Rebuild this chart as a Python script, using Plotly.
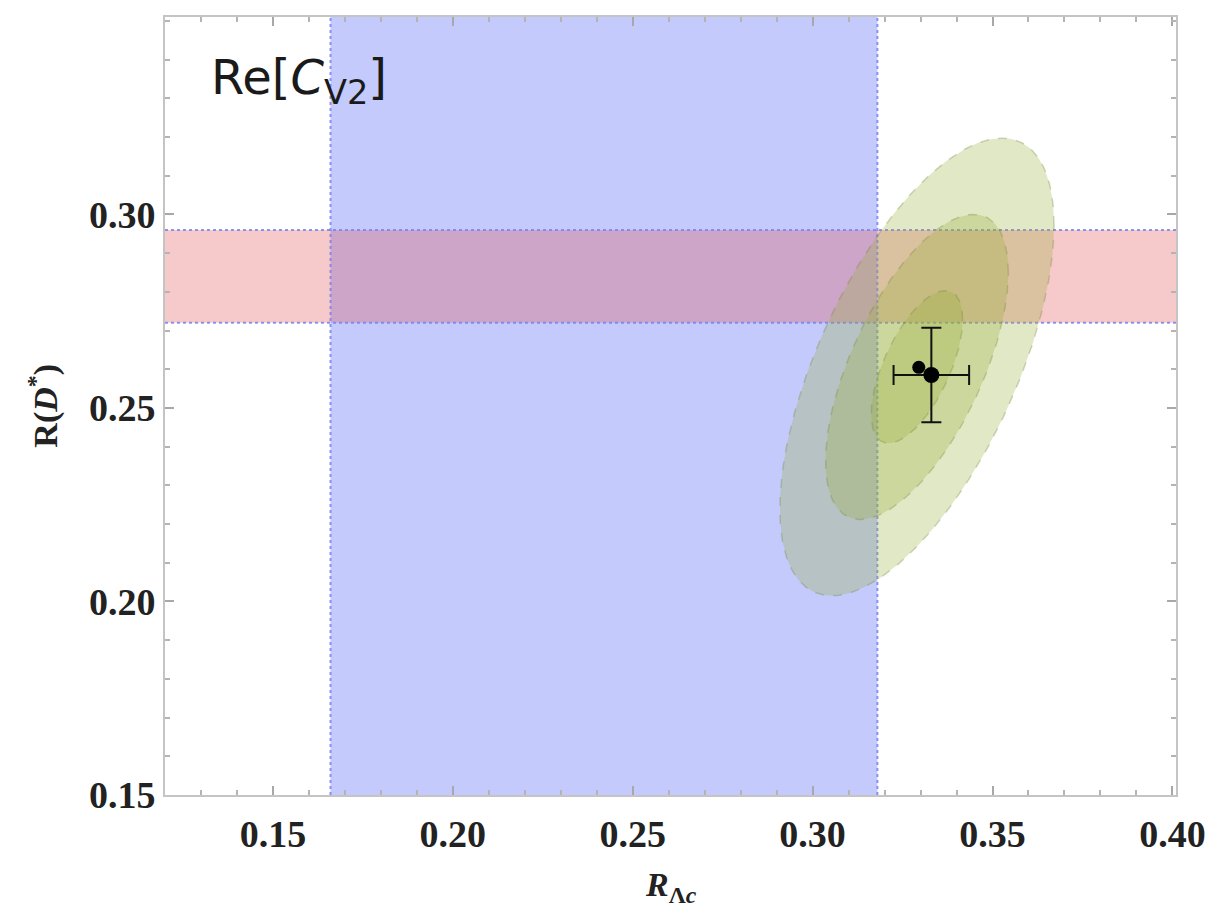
import numpy as np
import plotly.graph_objects as go

# ---------------- data ----------------
x_range = [0.12, 0.401]
y_range = [0.15, 0.351]
x_tick_vals = [0.15, 0.20, 0.25, 0.30, 0.35, 0.40]
x_tick_text = ["0.15", "0.20", "0.25", "0.30", "0.35", "0.40"]
y_tick_vals = [0.15, 0.20, 0.25, 0.30]
y_tick_text = ["0.15", "0.20", "0.25", "0.30"]

band_rlambdac = [0.166, 0.318]      # blue vertical band (R_Lambda_c measurement)
band_rdstar = [0.272, 0.296]        # red horizontal band (R(D*) measurement)

ellipse_center = [0.329, 0.2606]
ellipse_sigma = [0.0127, 0.0197]
ellipse_rho = 0.62
ellipse_levels = [3, 2, 1]

point_x = [0.3330]
point_y = [0.2585]
point_err_x = [0.0105]
point_err_y = [0.0122]
dot2_x = [0.3295]
dot2_y = [0.2605]

# ---------------- figure ----------------
fig = go.Figure()

blue_fill = "rgba(60,80,245,0.30)"
red_fill = "rgba(225,80,80,0.30)"
border = "rgba(120,130,240,0.85)"

shapes = [
    dict(type="rect", xref="x", yref="y", x0=band_rlambdac[0], x1=band_rlambdac[1],
         y0=y_range[0], y1=y_range[1], fillcolor=blue_fill, line=dict(width=0), layer="below"),
    dict(type="rect", xref="x", yref="y", x0=x_range[0], x1=x_range[1],
         y0=band_rdstar[0], y1=band_rdstar[1], fillcolor=red_fill, line=dict(width=0), layer="below"),
]
for xv in band_rlambdac:
    shapes.append(dict(type="line", xref="x", yref="y", x0=xv, x1=xv, y0=y_range[0], y1=y_range[1],
                       line=dict(color=border, width=2, dash="dot"), layer="below"))
for yv in band_rdstar:
    shapes.append(dict(type="line", xref="x", yref="y", x0=x_range[0], x1=x_range[1], y0=yv, y1=yv,
                       line=dict(color=border, width=2, dash="dot"), layer="below"))

t = np.linspace(0, 2 * np.pi, 241)
cx, cy = ellipse_center
sx, sy = ellipse_sigma
r = ellipse_rho
for n in ellipse_levels:
    ex = cx + n * sx * np.cos(t)
    ey = cy + n * sy * (r * np.cos(t) + np.sqrt(1 - r * r) * np.sin(t))
    fig.add_trace(go.Scatter(
        x=ex, y=ey, mode="lines", fill="toself",
        fillcolor="rgba(150,175,60,0.29)",
        line=dict(color="rgba(110,130,50,0.30)", width=1.5, dash="dash"),
        hoverinfo="skip", showlegend=False))

fig.add_trace(go.Scatter(
    x=dot2_x, y=dot2_y, mode="markers",
    marker=dict(color="black", size=13), showlegend=False))
fig.add_trace(go.Scatter(
    x=point_x, y=point_y, mode="markers",
    marker=dict(color="black", size=16),
    error_x=dict(type="data", array=point_err_x, color="#111", thickness=2, width=10),
    error_y=dict(type="data", array=point_err_y, color="#111", thickness=2, width=10),
    showlegend=False))

tickfont = dict(family="Liberation Serif", size=38, color="#222", weight="bold")
axis_common = dict(
    showline=True, mirror="allticks", linecolor="#c4c4c4", linewidth=2,
    showgrid=False, zeroline=False,
    ticks="inside", ticklen=9, tickwidth=1.5, tickcolor="#a8a8a8",
    tickfont=tickfont, ticklabeloverflow="allow",
)

# The page body has an 8px margin, so the figure is sized to fit the window.
fig.update_layout(
    width=1205, height=906,
    margin=dict(l=157, r=37, t=7, b=119),
    paper_bgcolor="white", plot_bgcolor="white",
    shapes=shapes,
    xaxis=dict(range=x_range, tickmode="array", tickvals=x_tick_vals, ticktext=x_tick_text,
               ticklabelstandoff=4,
               minor=dict(dtick=0.01, tick0=0.0, ticks="inside", ticklen=5, tickcolor="#b4b4b4"),
               **axis_common),
    yaxis=dict(range=y_range, tickmode="array", tickvals=y_tick_vals, ticktext=y_tick_text,
               minor=dict(dtick=0.01, tick0=0.0, ticks="inside", ticklen=5, tickcolor="#b4b4b4"),
               **axis_common),
    annotations=[
        dict(text="Re[<i>C</i><sub>V2</sub>]", xref="paper", yref="paper",
             x=0.044, y=0.918, xanchor="left", yanchor="middle", showarrow=False,
             font=dict(family="DejaVu Sans", size=48, color="#1a1a1a")),
        dict(text="R(<i>D</i><sup>*</sup>)", xref="paper", yref="paper",
             x=-0.121, y=0.50, xanchor="center", yanchor="middle", textangle=-90, showarrow=False,
             font=dict(family="Liberation Serif", size=34, color="#222", weight="bold")),
        dict(text="<i>R</i><sub>Λ<i>c</i></sub>", xref="paper", yref="paper",
             x=0.5, y=-0.118, xanchor="center", yanchor="middle", showarrow=False,
             font=dict(family="Liberation Serif", size=34, color="#222", weight="bold")),
    ],
)

fig.write_html("out.html")
